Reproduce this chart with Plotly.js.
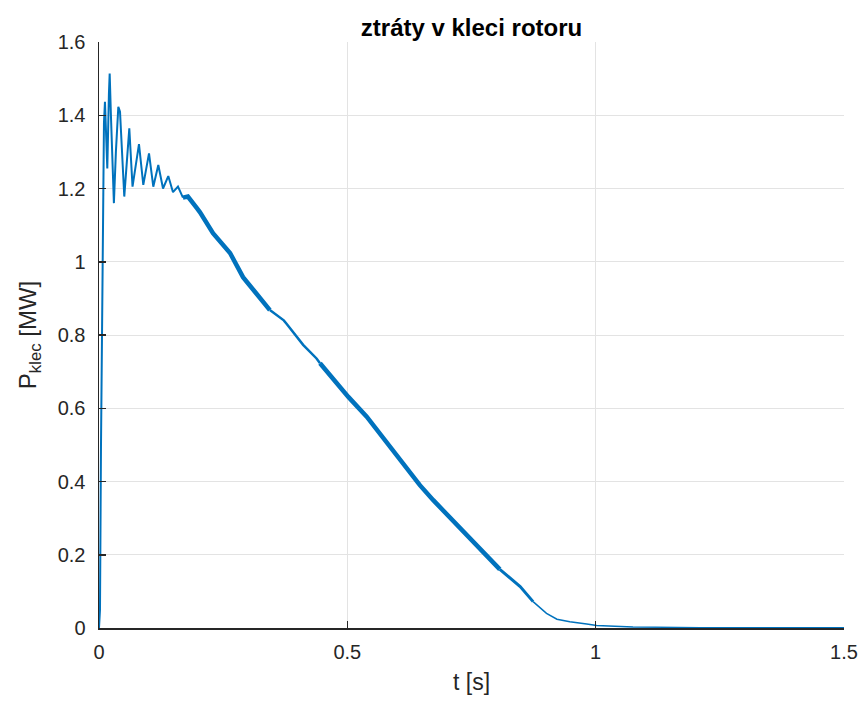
<!DOCTYPE html>
<html>
<head>
<meta charset="utf-8">
<script src="https://cdn.plot.ly/plotly-3.0.1.min.js"></script>
<style>html,body{margin:0;padding:0;background:#fff;}#chart{width:864px;height:702px;}</style>
</head>
<body>
<div id="chart"></div>
<script>
// time [s]
const tValues = [0, 0.002, 0.004, 0.007, 0.010, 0.012, 0.0167, 0.020, 0.0215, 0.024, 0.030, 0.034,
  0.0389, 0.0423, 0.0509, 0.061, 0.0675, 0.0805, 0.0892, 0.1007, 0.1093, 0.1194, 0.1289, 0.1395,
  0.149, 0.159, 0.169, 0.179, 0.1967, 0.2034, 0.2295, 0.2638, 0.290, 0.304, 0.324, 0.344, 0.3644,
  0.372, 0.378, 0.398, 0.411, 0.438, 0.445, 0.502, 0.539, 0.606, 0.646, 0.673, 0.740, 0.781, 0.807,
  0.848, 0.874, 0.901, 0.922, 0.948, 0.982, 1.002, 1.075, 1.21, 1.5];
// rotor cage losses [MW]
const pKlec = [0, 0.05, 0.5, 1.0, 1.38, 1.437, 1.255, 1.46, 1.514, 1.40, 1.16, 1.30,
  1.423, 1.41, 1.178, 1.364, 1.205, 1.321, 1.21, 1.296, 1.205, 1.264, 1.20, 1.234,
  1.19, 1.205, 1.175, 1.178, 1.147, 1.135, 1.078, 1.024, 0.958, 0.935, 0.901, 0.868, 0.846,
  0.840, 0.830, 0.795, 0.773, 0.736, 0.723, 0.631, 0.577, 0.459, 0.39, 0.349, 0.254, 0.195, 0.160,
  0.113, 0.072, 0.040, 0.024, 0.017, 0.011, 0.007, 0.003, 0.001, 0.0005];
const xTicks = [0, 0.5, 1, 1.5];
const xTickLabels = ['0', '0.5', '1', '1.5'];
const yTicks = [0, 0.2, 0.4, 0.6, 0.8, 1.0, 1.2, 1.4, 1.6];
const yTickLabels = ['0', '0.2', '0.4', '0.6', '0.8', '1', '1.2', '1.4', '1.6'];

// visual thickness of the (noisy) trace per time range
const segments = [
  {from: 0, to: 0.169, w: 2},
  {from: 0.169, to: 0.344, w: 4.5},
  {from: 0.344, to: 0.445, w: 2.5},
  {from: 0.445, to: 0.807, w: 4.5},
  {from: 0.807, to: 0.874, w: 3},
  {from: 0.874, to: 1.5, w: 1.5}
];
const color = '#0072BD';
const traces = segments.map(s => {
  const xs = [], ys = [];
  tValues.forEach((t, i) => { if (t >= s.from && t <= s.to) { xs.push(t); ys.push(pKlec[i]); } });
  return {x: xs, y: ys, type: 'scatter', mode: 'lines',
    line: {color: color, width: s.w, shape: 'linear'}, hoverinfo: 'skip', showlegend: false};
});

const FONT = 'Liberation Sans, Arial, Helvetica, sans-serif';
const axisCommon = {
  showline: true, linecolor: '#262626', linewidth: 1.5,
  ticks: 'inside', ticklen: 7, tickwidth: 1.5, tickcolor: '#262626',
  showgrid: true, gridcolor: '#e3e3e3', gridwidth: 1,
  zeroline: false, mirror: false,
  tickfont: {family: FONT, size: 20, color: '#262626'}
};
const layout = {
  width: 864, height: 702,
  margin: {l: 99, r: 20, t: 42, b: 74},
  paper_bgcolor: '#ffffff', plot_bgcolor: '#ffffff',
  title: {text: '<b>ztráty v kleci rotoru</b>', xref: 'paper', x: 0.5, xanchor: 'center',
    yref: 'container', y: 0.961, yanchor: 'middle',
    font: {family: FONT, size: 24, color: '#000000'}},
  xaxis: Object.assign({}, axisCommon, {
    range: [0, 1.5], tickvals: xTicks, ticktext: xTickLabels, ticklabelstandoff: 5,
    title: {text: 't [s]', standoff: 12, font: {family: FONT, size: 23, color: '#262626'}}
  }),
  yaxis: Object.assign({}, axisCommon, {
    range: [0, 1.6], tickvals: yTicks, ticktext: yTickLabels, ticklabelstandoff: 8,
    title: {text: 'P<sub>klec</sub> [MW]', standoff: 14, font: {family: FONT, size: 24, color: '#262626'}}
  })
};
Plotly.newPlot('chart', traces, layout, {displayModeBar: false, staticPlot: true});
</script>
</body>
</html>
